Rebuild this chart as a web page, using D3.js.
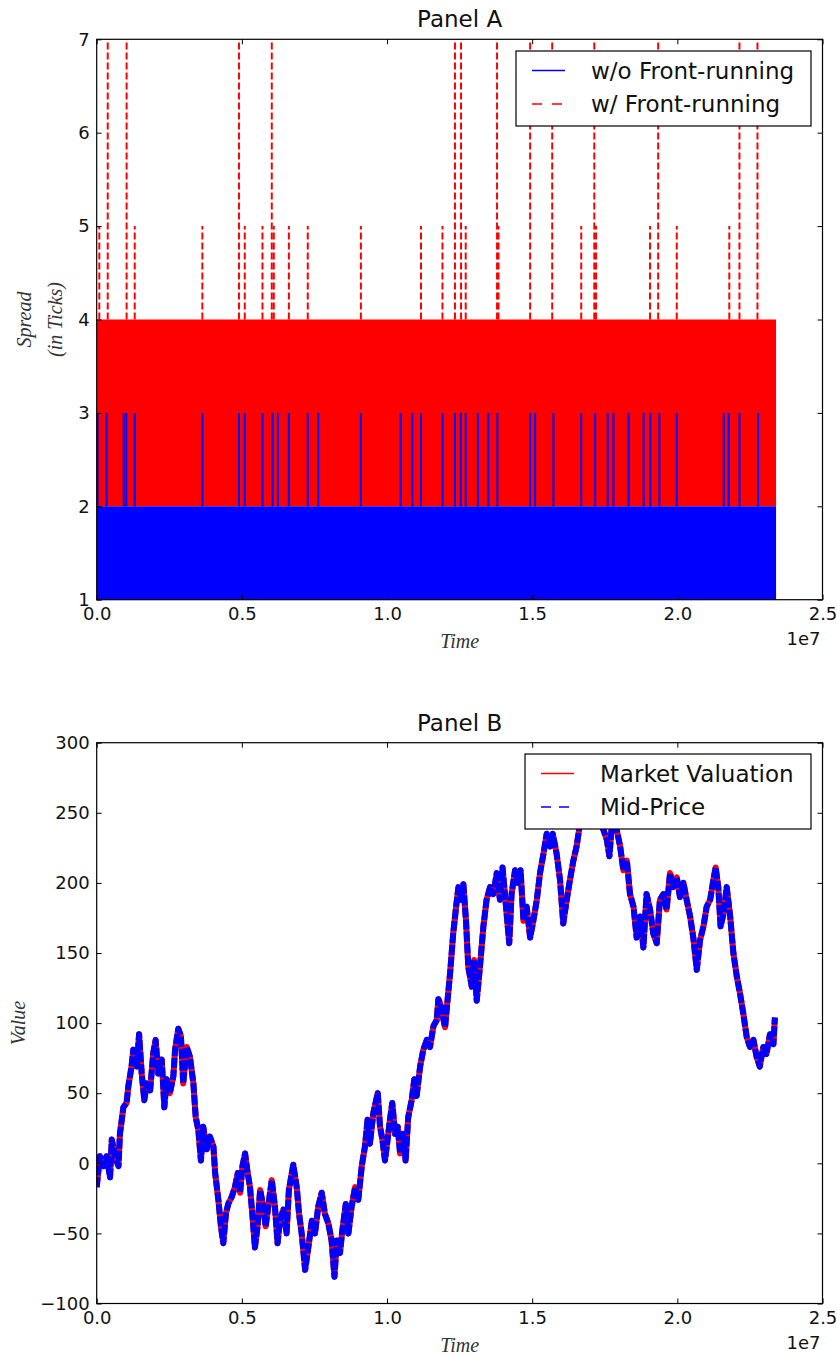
<!DOCTYPE html>
<html>
<head>
<meta charset="utf-8">
<script src="https://cdn.jsdelivr.net/npm/d3@7"></script>
<style>body{margin:0;background:#fff}</style>
</head>
<body>
<div id="chart"></div>
<script>
// ------------------------------ data (time in units of 1e7) ------------------------------
var spreadEnd=2.34;
var blueBand=[1,2];     // w/o front-running, base spread range
var redBand=[2,4];      // w/ front-running, base spread range
var blueSpikeT=[0.003,0.034,0.093,0.102,0.131,0.364,0.490,0.510,0.571,0.606,0.624,0.662,0.727,0.763,0.910,
	1.047,1.087,1.117,1.191,1.234,1.254,1.271,1.313,1.349,1.380,1.493,1.510,1.573,1.669,1.717,1.760,1.780,
	1.832,1.884,1.907,1.938,1.998,2.160,2.177,2.214,2.278];
var blueSpikeV=3;
var redSpike5T=[0.009,0.131,0.364,0.510,0.571,0.610,0.662,0.727,0.910,1.117,1.191,1.271,1.384,1.669,1.720,1.906,1.998,2.179];
var redSpike7T=[0.038,0.103,0.490,0.603,1.234,1.255,1.379,1.493,1.569,1.714,1.934,2.214,2.276];

var priceT=[0.000,0.011,0.023,0.034,0.046,0.052,0.063,0.075,0.080,0.092,0.103,0.109,0.120,0.126,0.138,0.146,0.155,0.164,
	0.172,0.184,0.195,0.203,0.212,0.224,0.233,0.241,0.252,0.264,0.270,0.281,0.290,0.298,0.310,0.321,0.333,0.341,0.350,
	0.359,0.367,0.379,0.390,0.402,0.408,0.419,0.428,0.436,0.445,0.453,0.465,0.476,0.486,0.494,0.502,0.511,0.520,0.528,
	0.536,0.545,0.554,0.563,0.574,0.582,0.594,0.603,0.614,0.623,0.631,0.643,0.654,0.662,0.677,0.689,0.697,0.706,0.718,
	0.729,0.741,0.752,0.763,0.775,0.786,0.798,0.809,0.819,0.827,0.838,0.846,0.858,0.867,0.878,0.890,0.901,0.913,0.924,
	0.933,0.941,0.953,0.968,0.976,0.984,0.993,1.002,1.010,1.018,1.028,1.037,1.045,1.056,1.064,1.073,1.085,1.094,1.102,
	1.114,1.125,1.137,1.148,1.160,1.171,1.177,1.183,1.200,1.206,1.217,1.228,1.238,1.246,1.257,1.263,1.272,1.280,1.292,
	1.300,1.309,1.320,1.332,1.343,1.355,1.366,1.378,1.389,1.398,1.412,1.421,1.429,1.441,1.452,1.460,1.470,1.481,1.493,
	1.504,1.516,1.527,1.539,1.550,1.562,1.571,1.584,1.596,1.607,1.619,1.630,1.642,1.653,1.663,1.675,1.690,1.705,1.720,
	1.735,1.757,1.766,1.774,1.791,1.803,1.814,1.826,1.837,1.849,1.860,1.872,1.883,1.894,1.906,1.917,1.929,1.940,1.952,
	1.963,1.975,1.986,1.998,2.009,2.021,2.032,2.044,2.055,2.067,2.078,2.090,2.101,2.113,2.124,2.132,2.141,2.149,2.159,
	2.170,2.182,2.193,2.205,2.216,2.227,2.239,2.250,2.262,2.273,2.284,2.296,2.307,2.319,2.331,2.336];
var priceV=[-17,5,-2,5,-10,17,5,-2,21,40,43,55,69,81,69,92,64,45,
	57,52,79,88,64,74,40,60,50,62,81,96,91,57,83,76,57,33,24,
	2,26,10,19,12,-7,-26,-45,-57,-36,-29,-24,-17,-7,-21,-2,7,-7,-17,
	-36,-60,-45,-19,-31,-45,-26,-12,-31,-57,-41,-33,-50,-19,-1,-17,-36,-50,-76,
	-60,-41,-50,-31,-21,-36,-43,-55,-81,-55,-64,-48,-29,-50,-31,-17,-26,-2,12,
	31,14,36,50,26,17,2,17,31,43,21,26,7,21,2,33,45,60,48,
	69,81,88,83,98,102,117,114,97,111,135,164,183,197,188,199,173,140,126,
	145,116,140,169,188,197,192,207,188,211,178,157,192,209,200,209,173,183,161,
	173,188,207,221,235,226,235,221,202,171,188,202,216,226,240,252,262,248,258,
	244,231,219,240,238,226,209,216,192,183,161,176,154,192,181,164,157,188,192,
	181,207,197,204,190,200,188,176,161,138,159,169,183,188,202,211,197,169,178,
	197,176,150,133,121,107,90,83,88,76,69,83,78,92,85,104];

var xTicks=[0,0.5,1,1.5,2,2.5];
var yTicksA=[1,2,3,4,5,6,7];
var yTicksB=[-100,-50,0,50,100,150,200,250,300];
var legendA=['w/o Front-running','w/ Front-running'];
var legendB=['Market Valuation','Mid-Price'];

// ------------------------------ layout ------------------------------
var W=837,H=1356,L=96.7,R=822.5;
var aTop=39.3,aBot=599.7,bTop=742.7,bBot=1303.5;
var RED='#ff0000',BLUE='#0000ff';

var oSvg=d3.select('#chart').append('svg')
	.attr('width',W).attr('height',H)
	.attr('font-family','DejaVu Sans');

var x=d3.scaleLinear().domain([0,2.5]).range([L,R]);
var yA=d3.scaleLinear().domain([1,7]).range([aBot,aTop]);
var yB=d3.scaleLinear().domain([-100,300]).range([bBot,bTop]);

oSvg.append('clipPath').attr('id','clipA').append('rect')
	.attr('x',L).attr('y',aTop).attr('width',R-L).attr('height',aBot-aTop);
oSvg.append('clipPath').attr('id','clipB').append('rect')
	.attr('x',L).attr('y',bTop).attr('width',R-L).attr('height',bBot-bTop);

// ------------------------------ Panel A ------------------------------
var gA=oSvg.append('g').attr('clip-path','url(#clipA)');

gA.append('rect').attr('fill',RED)
	.attr('x',x(0)).attr('width',x(spreadEnd)-x(0))
	.attr('y',yA(redBand[1])).attr('height',yA(redBand[0])-yA(redBand[1]));

gA.selectAll('line.r5').data(redSpike5T).enter().append('line')
	.attr('x1',function(d){return x(d)}).attr('x2',function(d){return x(d)})
	.attr('y1',yA(redBand[1])).attr('y2',yA(5))
	.attr('stroke',RED).attr('stroke-width',2).attr('stroke-dasharray','7,3');
gA.selectAll('line.r7').data(redSpike7T).enter().append('line')
	.attr('x1',function(d){return x(d)}).attr('x2',function(d){return x(d)})
	.attr('y1',yA(redBand[1])).attr('y2',yA(7))
	.attr('stroke',RED).attr('stroke-width',2).attr('stroke-dasharray','7,3');

gA.append('rect').attr('fill',BLUE)
	.attr('x',x(0)).attr('width',x(spreadEnd)-x(0))
	.attr('y',yA(blueBand[1])).attr('height',yA(blueBand[0])-yA(blueBand[1]));

gA.selectAll('line.b').data(blueSpikeT).enter().append('line')
	.attr('x1',function(d){return x(d)}).attr('x2',function(d){return x(d)})
	.attr('y1',yA(blueBand[1])).attr('y2',yA(blueSpikeV))
	.attr('stroke',BLUE).attr('stroke-width',2);

// ------------------------------ Panel B ------------------------------
var gB=oSvg.append('g').attr('clip-path','url(#clipB)');
var line=d3.line().x(function(d,i){return x(priceT[i])}).y(function(d){return yB(d)});

gB.append('path').attr('d',line(priceV)).attr('fill','none')
	.attr('stroke',RED).attr('stroke-width',6).attr('stroke-linejoin','round');
gB.append('path').attr('d',line(priceV)).attr('fill','none')
	.attr('stroke',BLUE).attr('stroke-width',6).attr('stroke-linejoin','round')
	.attr('stroke-dasharray','10,2');

// ------------------------------ axes / frames ------------------------------
function frame(yScale,yTicks,yFmt,top,bot,title,ylab){
	var gAx=oSvg.append('g');
	gAx.append('g').attr('transform','translate(0,'+bot+')')
		.call(d3.axisBottom(x).tickValues(xTicks).tickFormat(d3.format('.1f')).tickSizeInner(-5).tickSizeOuter(0).tickPadding(8));
	gAx.append('g').attr('transform','translate(0,'+top+')')
		.call(d3.axisTop(x).tickValues(xTicks).tickFormat('').tickSizeInner(-5).tickSizeOuter(0));
	gAx.append('g').attr('transform','translate('+L+',0)')
		.call(d3.axisLeft(yScale).tickValues(yTicks).tickFormat(yFmt).tickSizeInner(-5).tickSizeOuter(0).tickPadding(7));
	gAx.append('g').attr('transform','translate('+R+',0)')
		.call(d3.axisRight(yScale).tickValues(yTicks).tickFormat('').tickSizeInner(-5).tickSizeOuter(0));
	gAx.selectAll('.domain').remove();
	gAx.selectAll('.tick line').attr('stroke','#000');
	gAx.selectAll('.tick text').attr('font-size',18).attr('font-family','DejaVu Sans').attr('fill','#111');

	gAx.append('rect').attr('x',L).attr('y',top).attr('width',R-L).attr('height',bot-top)
		.attr('fill','none').attr('stroke','#000').attr('stroke-width',1.2);

	oSvg.append('text').attr('x',(L+R)/2).attr('y',top-12).attr('text-anchor','middle')
		.attr('font-size',23).attr('fill','#111').text(title);
	oSvg.append('text').attr('x',R-2).attr('y',bot+45).attr('text-anchor','end')
		.attr('font-size',18).attr('fill','#111').text('1e7');
	oSvg.append('text').attr('x',(L+R)/2).attr('y',bot+48).attr('text-anchor','middle')
		.attr('font-family','Liberation Serif').attr('font-style','italic')
		.attr('font-size',20).attr('fill','#333').text('Time');

	var yl=oSvg.append('text').attr('transform','translate(0,'+((top+bot)/2)+') rotate(-90)')
		.attr('text-anchor','middle').attr('font-family','Liberation Serif').attr('font-style','italic')
		.attr('font-size',20).attr('fill','#333');
	ylab.forEach(function(s,i,arr){
		yl.append('tspan').attr('x',0).attr('y',arr.length==2?(i==0?31:62):25).text(s);
	});
}
frame(yA,yTicksA,d3.format('d'),aTop,aBot,'Panel A',['Spread','(in Ticks)']);
frame(yB,yTicksB,d3.format('d'),bTop,bBot,'Panel B',['Value']);

// ------------------------------ legends ------------------------------
function legend(lx,ly,lw,lh,labels,styles){
	var g=oSvg.append('g');
	g.append('rect').attr('x',lx).attr('y',ly).attr('width',lw).attr('height',lh)
		.attr('fill','#fff').attr('stroke','#000').attr('stroke-width',1.2);
	labels.forEach(function(s,i){
		var cy=ly+19.5+i*33.5;
		g.append('line').attr('x1',lx+16).attr('x2',lx+49).attr('y1',cy).attr('y2',cy)
			.attr('stroke',styles[i].c).attr('stroke-width',1.5)
			.attr('stroke-dasharray',styles[i].d);
		g.append('text').attr('x',lx+75).attr('y',cy+8).attr('font-size',23)
			.attr('fill','#111').text(s);
	});
}
legend(516,51,295,75,legendA,[{c:BLUE,d:null},{c:RED,d:'10,10'}]);
legend(525,754,286,75,legendB,[{c:RED,d:null},{c:BLUE,d:'10,8'}]);
</script>
</body>
</html>
